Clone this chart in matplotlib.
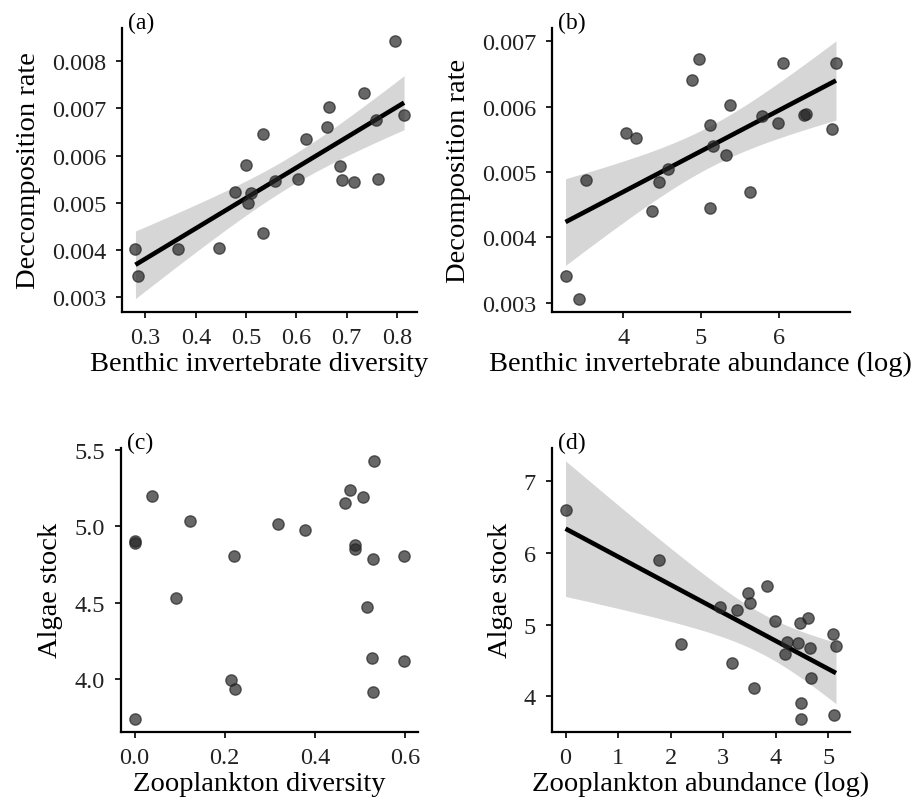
import matplotlib
matplotlib.use('Agg')
import matplotlib.pyplot as plt
import numpy as np

# (a) benthic invertebrate diversity vs decomposition rate
div_benthic = [0.796, 0.734, 0.664, 0.814, 0.759, 0.660, 0.533, 0.620, 0.500, 0.686,
               0.603, 0.691, 0.714, 0.762, 0.557, 0.477, 0.510, 0.503, 0.533, 0.280,
               0.364, 0.447, 0.285]
decomp_a = [0.00843, 0.00733, 0.00704, 0.00685, 0.00676, 0.00660, 0.00646, 0.00636, 0.00580, 0.00579,
            0.00551, 0.00549, 0.00545, 0.00551, 0.00546, 0.00523, 0.00520, 0.00499, 0.00437, 0.00402,
            0.00402, 0.00404, 0.00344]

# (b) benthic invertebrate abundance (log) vs decomposition rate
abund_benthic = [3.256, 3.428, 3.522, 4.039, 4.160, 4.367, 4.461, 4.569, 4.884, 4.978,
                 5.120, 5.116, 5.159, 5.323, 5.370, 5.633, 5.783, 5.990, 6.054, 6.330,
                 6.350, 6.735, 6.687]
decomp_b = [0.00340, 0.00306, 0.00488, 0.00560, 0.00552, 0.00440, 0.00484, 0.00505, 0.00640, 0.00673,
            0.00572, 0.00445, 0.00540, 0.00526, 0.00602, 0.00469, 0.00585, 0.00574, 0.00667, 0.00587,
            0.00588, 0.00667, 0.00565]

# (c) zooplankton diversity vs algae stock
div_zoo = [0.531, 0.039, 0.479, 0.468, 0.508, 0.123, 0.318, 0.379, 0.0, 0.0,
           0.490, 0.490, 0.220, 0.529, 0.599, 0.092, 0.516, 0.526, 0.598, 0.214,
           0.224, 0.529, 0.0]
algae_c = [5.428, 5.200, 5.240, 5.155, 5.192, 5.031, 5.014, 4.973, 4.888, 4.900,
           4.875, 4.853, 4.805, 4.784, 4.805, 4.530, 4.473, 4.137, 4.117, 3.992,
           3.936, 3.914, 3.738]

# (d) zooplankton abundance (log) vs algae stock
abund_zoo = [0.0, 1.784, 2.205, 2.950, 3.263, 3.174, 3.473, 3.505, 3.588, 3.836,
             3.983, 4.218, 4.417, 4.187, 4.461, 4.620, 4.652, 4.671, 4.474, 4.480,
             5.098, 5.149, 5.117]
algae_d = [6.596, 5.906, 4.734, 5.248, 5.198, 4.458, 5.447, 5.295, 4.113, 5.538,
           5.051, 4.757, 4.743, 4.592, 5.028, 5.092, 4.674, 4.255, 3.906, 3.686,
           4.867, 4.702, 3.741]


def t_quant(df, z):
    # Cornish-Fisher approximation of a t quantile from the normal quantile z
    return (z + (z**3 + z) / (4 * df)
            + (5 * z**5 + 16 * z**3 + 3 * z) / (96 * df**2))


def add_lm(ax, x, y, z):
    x = np.asarray(x, float)
    y = np.asarray(y, float)
    n = len(x)
    b, a = np.polyfit(x, y, 1)
    resid = y - (a + b * x)
    s = np.sqrt(np.sum(resid**2) / (n - 2))
    sxx = np.sum((x - x.mean())**2)
    xs = np.linspace(x.min(), x.max(), 100)
    fit = a + b * xs
    se = s * np.sqrt(1 / n + (xs - x.mean())**2 / sxx)
    t = t_quant(n - 2, z)
    ax.fill_between(xs, fit - t * se, fit + t * se, color='#999999', alpha=0.4,
                    linewidth=0, zorder=1)
    ax.plot(xs, fit, color='black', lw=3.3, solid_capstyle='butt', zorder=2)


plt.rcParams.update({
    'font.family': 'Liberation Serif',
    'axes.linewidth': 1.6,
    'xtick.major.width': 1.4,
    'ytick.major.width': 1.4,
    'xtick.major.size': 4.5,
    'ytick.major.size': 4.5,
    'xtick.major.pad': 6.5,
    'ytick.major.pad': 7,
    'xtick.labelsize': 17.5,
    'ytick.labelsize': 17.5,
    'xtick.color': '#222222',
    'ytick.color': '#222222',
})

fig = plt.figure(figsize=(9.15, 8.03), dpi=100)
W, H = 915, 803


def make_ax(l, t, r, b):
    return fig.add_axes([l / W, 1 - b / H, (r - l) / W, (b - t) / H])


# z = normal quantile for the band (None = no smoother); xlabel x-position in axes fraction
panels = [
    (make_ax(122, 29, 417.5, 312.5), div_benthic, decomp_a, 1.959964, 0.465,
     'Benthic invertebrate diversity', 'Deccomposition rate', '(a)',
     [0.3, 0.4, 0.5, 0.6, 0.7, 0.8], [0.003, 0.004, 0.005, 0.006, 0.007, 0.008], '%.1f', '%.3f'),
    (make_ax(552, 29, 849.5, 312.5), abund_benthic, decomp_b, 1.959964, 0.5,
     'Benthic invertebrate abundance (log)', 'Decomposition rate', '(b)',
     [4, 5, 6], [0.003, 0.004, 0.005, 0.006, 0.007], '%d', '%.3f'),
    (make_ax(121, 449, 418, 732.7), div_zoo, algae_c, None, 0.465,
     'Zooplankton diversity', 'Algae stock', '(c)',
     [0.0, 0.2, 0.4, 0.6], [4.0, 4.5, 5.0, 5.5], '%.1f', '%.1f'),
    (make_ax(552, 449, 849.5, 732.7), abund_zoo, algae_d, 2.45, 0.5,
     'Zooplankton abundance (log)', 'Algae stock', '(d)',
     [0, 1, 2, 3, 4, 5], [4, 5, 6, 7], '%d', '%d'),
]

for ax, x, y, z, xlx, xlab, ylab, tag, xt, yt, xf, yf in panels:
    if z is not None:
        add_lm(ax, x, y, z)
    ax.scatter(x, y, s=66, facecolor='#262626', edgecolor='#262626',
               linewidth=1.0, alpha=0.7, zorder=3)
    ax.margins(0.05)
    ax.set_xticks(xt)
    ax.set_yticks(yt)
    ax.set_xticklabels([xf % v for v in xt])
    ax.set_yticklabels([yf % v for v in yt])
    ax.spines['top'].set_visible(False)
    ax.spines['right'].set_visible(False)
    ax.set_xlabel(xlab, fontsize=20.5)
    ax.xaxis.set_label_coords(xlx, -0.138)
    ax.xaxis.label.set_va('top')
    ax.set_ylabel(ylab, fontsize=20.5, labelpad=8)
    ax.text(0.02, 1.02, tag, transform=ax.transAxes, fontsize=17,
            ha='left', va='center')

fig.savefig('out.png', dpi=100)
